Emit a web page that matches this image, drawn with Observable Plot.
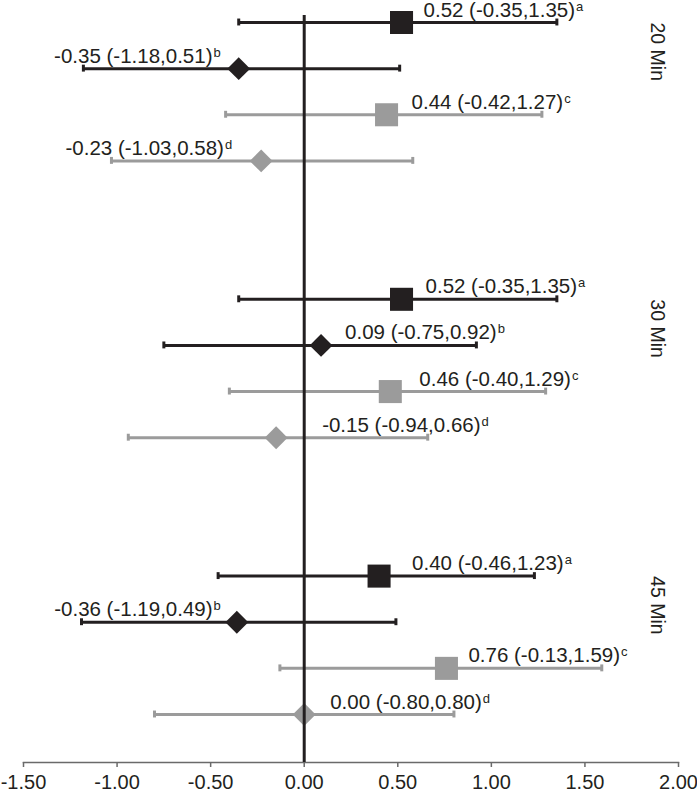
<!DOCTYPE html>
<html>
<head>
<meta charset="utf-8">
<script src="https://cdn.jsdelivr.net/npm/d3@7"></script>
<script src="https://cdn.jsdelivr.net/npm/@observablehq/plot@0.6"></script>
<style>
  html, body { margin: 0; padding: 0; background: #fff; }
  svg { display: block; }
</style>
</head>
<body>
<div id="chart"></div>
<script>
// ---- Data ----
const groups = ["20 Min", "30 Min", "45 Min"];
const seriesKeys = ["a", "b", "c", "d"];

const est20 = [0.52, -0.35, 0.44, -0.23];
const lo20  = [-0.35, -1.18, -0.42, -1.03];
const hi20  = [1.35, 0.51, 1.27, 0.58];

const est30 = [0.52, 0.09, 0.46, -0.15];
const lo30  = [-0.35, -0.75, -0.40, -0.94];
const hi30  = [1.35, 0.92, 1.29, 0.66];

const est45 = [0.40, -0.36, 0.76, 0.00];
const lo45  = [-0.46, -1.19, -0.13, -0.80];
const hi45  = [1.23, 0.49, 1.59, 0.80];

const xTicks = [-1.5, -1.0, -0.5, 0, 0.5, 1.0, 1.5, 2.0];

// ---- Layout / style (kept apart from the data) ----
const estimates = [est20, est30, est45];
const lows = [lo20, lo30, lo45];
const highs = [hi20, hi30, hi45];
const slotsPerGroup = 6;            // 4 rows + 2 empty slots between groups
const labelDx = [[22, -18, 25, -29], [24, 24, 29, 46], [33, -16, 22, 26]];
const black = "#231f20", gray = "#9b9b9b";
const seriesColor = [black, black, gray, gray];
const squareKeys = ["a", "c"], diamondKeys = ["b", "d"];
const font = "'Liberation Sans', Arial, Helvetica, sans-serif";

const rows = [];
groups.forEach((g, gi) => seriesKeys.forEach((s, si) => rows.push({
  group: g, series: s, pos: gi * slotsPerGroup + si,
  est: estimates[gi][si], lo: lows[gi][si], hi: highs[gi][si],
  dx: labelDx[gi][si]
})));
const groupRows = groups.map((g, gi) => ({group: g, pos: gi * slotsPerGroup}));
const fmt = v => v.toFixed(2);
const labelText = d => `${fmt(d.est)} (${fmt(d.lo)},${fmt(d.hi)})`;
const capHalf = 0.075;

const labelMarks = rows.map(d => Plot.text([d], {
  x: "est", y: "pos", text: labelText,
  dx: d.dx, dy: -12.5,
  textAnchor: d.dx < 0 ? "end" : "start",
  lineAnchor: "middle",
  fill: black, fontSize: 20.5
}));

const chart = Plot.plot({
  width: 697,
  height: 792,
  marginLeft: 23,
  marginRight: 19,
  marginTop: 15,
  marginBottom: 30,
  style: {fontFamily: font, fontSize: "20px", color: black, background: "#fff"},
  x: {domain: [-1.5, 2], label: null},
  y: {domain: [0, 15], range: [22, 714], axis: null},
  color: {domain: seriesKeys, range: seriesColor},
  marks: [
    Plot.frame({anchor: "bottom", stroke: "#6a6a6a", strokeWidth: 1.5}),
    Plot.axisX(xTicks, {
      tickFormat: fmt, tickSize: 5, tickPadding: 7,
      stroke: "#6a6a6a", strokeWidth: 1.5, fill: black, fontSize: 20, label: null
    }),
    Plot.ruleY(rows, {y: "pos", x1: "lo", x2: "hi", stroke: "series", strokeWidth: 3}),
    Plot.ruleX(rows, {x: "lo", y1: d => d.pos - capHalf, y2: d => d.pos + capHalf, stroke: "series", strokeWidth: 3}),
    Plot.ruleX(rows, {x: "hi", y1: d => d.pos - capHalf, y2: d => d.pos + capHalf, stroke: "series", strokeWidth: 3}),
    Plot.dot(rows.filter(d => squareKeys.includes(d.series)), {x: "est", y: "pos", symbol: "square", r: 13, fill: "series", stroke: null}),
    Plot.dot(rows.filter(d => diamondKeys.includes(d.series)), {x: "est", y: "pos", symbol: "diamond2", r: 10.3, fill: "series", stroke: null}),
    Plot.ruleX([0], {stroke: black, strokeWidth: 3}),
    ...labelMarks,
    Plot.text(groupRows, {
      y: "pos", text: "group", frameAnchor: "right", dx: -21,
      rotate: 90, textAnchor: "start", lineAnchor: "middle",
      fill: black, fontSize: 19.5
    })
  ]
});

document.getElementById("chart").appendChild(chart);

// superscript letters after each estimate label (matched by its text)
const supByText = new Map(rows.map(d => [labelText(d), d.series]));
d3.select(chart).selectAll("text").each(function() {
  const t = this.textContent.trim();
  if (supByText.has(t)) {
    d3.select(this).append("tspan")
      .attr("dx", 1).attr("dy", -6)
      .attr("font-size", 13)
      .text(supByText.get(t));
  }
});
</script>
</body>
</html>
